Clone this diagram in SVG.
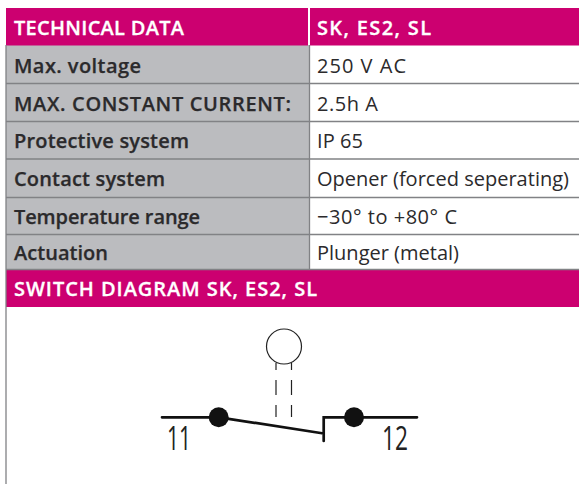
<svg xmlns="http://www.w3.org/2000/svg" width="579" height="484" viewBox="0 0 579 484">
<style>
text{font-family:"Open Sans","Noto Sans",sans-serif;font-size:20px;fill:#2b2a2c}
.h{font-weight:600;fill:#fff;stroke:#fff;stroke-width:.3}
.b{font-weight:600;stroke:#2b2a2c;stroke-width:.25}
.g{fill:#bbbcbf}
.m{fill:#cc0070}
.l{stroke:#818285;stroke-width:1.3;fill:none}
.w{stroke:#111;stroke-width:2.7;fill:none;stroke-linecap:round}
.t{stroke:#222;stroke-width:1.2;fill:none}
.n{font-size:32px;fill:#222}
</style>
<g id="table">
<rect class="g" x="6" y="45" width="303" height="225"/>
<rect class="m" x="6" y="8" width="302" height="37.500"/>
<rect class="m" x="310" y="8" width="269" height="37.500"/>
<rect class="m" x="6" y="270" width="573" height="37"/>
<path class="l" d="M6 83.500H579M6 121.500H579M6 159H579M6 197.500H579M6 234.500H579M6 269.500H579M309.500 45V270M6 45V484"/>
</g>
<g id="labels">
<text class="h" x="14" y="35" textLength="170">TECHNICAL DATA</text>
<text class="h" x="317" y="35" textLength="114">SK, ES2, SL</text>
<text class="b" x="14" y="73" textLength="127">Max. voltage</text><text x="317" y="73" textLength="89">250 V AC</text>
<text class="b" x="14" y="111" textLength="277">MAX. CONSTANT CURRENT:</text><text x="317" y="111" textLength="61">2.5h A</text>
<text class="b" x="14" y="148" textLength="175">Protective system</text><text x="317" y="148" textLength="46">IP 65</text>
<text class="b" x="14" y="186" textLength="151">Contact system</text><text x="317" y="186" textLength="252">Opener (forced seperating)</text>
<text class="b" x="14" y="224" textLength="186">Temperature range</text><text x="317" y="224" textLength="140">−30° to +80° C</text>
<text class="b" x="14" y="260" textLength="94">Actuation</text><text x="317" y="260" textLength="142">Plunger (metal)</text>
<text class="h" x="14" y="296" textLength="303">SWITCH DIAGRAM SK, ES2, SL</text>
</g>
<g id="plunger">
<circle class="t" cx="284" cy="346.500" r="17.500"/>
<path class="t" d="M276 363V370M276 380V395M276 405V417M291.500 363V370M291.500 380V395M291.500 405V417"/>
</g>
<g id="connectors">
<path class="w" d="M162 417.300H219L323.700 433.500M323.700 441V417.300H354H417"/>
</g>
<g id="contact-11"><circle cx="218.700" cy="417.300" r="10" fill="#111"/><text class="n" x="167" y="450" textLength="24" lengthAdjust="spacingAndGlyphs">11</text></g>
<g id="contact-12"><circle cx="354" cy="417.300" r="10" fill="#111"/><text class="n" x="382" y="450" textLength="26" lengthAdjust="spacingAndGlyphs">12</text></g>
</svg>
